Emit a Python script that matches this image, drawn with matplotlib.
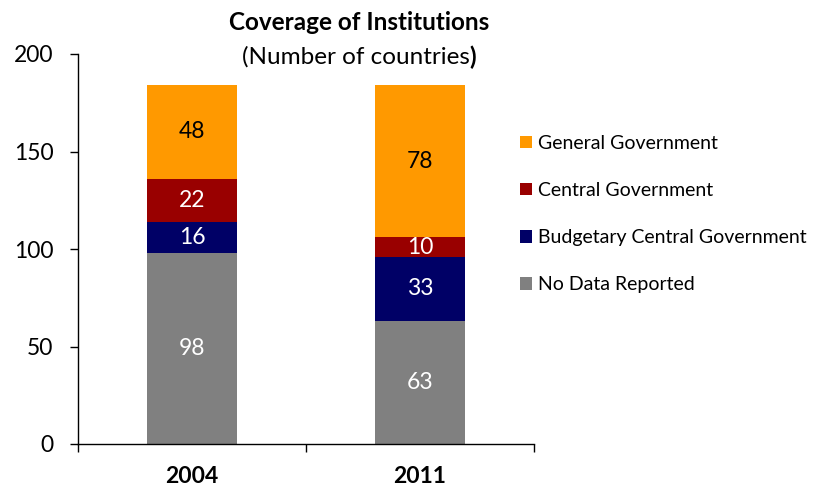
import matplotlib
matplotlib.use("Agg")
import matplotlib.pyplot as plt
from matplotlib.patches import Patch

plt.rcParams['font.family'] = ['Lato', 'DejaVu Sans']

categories = ["2004", "2011"]
series_names = ["No Data Reported", "Budgetary Central Government", "Central Government", "General Government"]
no_data = [98, 63]
budgetary = [16, 33]
central = [22, 10]
general = [48, 78]
colors = ["#808080", "#000066", "#990000", "#FF9900"]
label_colors = ["white", "white", "white", "black"]

fig = plt.figure(figsize=(8.14, 4.88), dpi=100)
ax = fig.add_axes([78/814, 44/488, 456/814, 390/488])

x = list(range(len(categories)))
bottoms = [0]*len(categories)
handles = []
for vals, col, lc, name in zip([no_data, budgetary, central, general], colors, label_colors, series_names):
    ax.bar(x, vals, width=0.395, bottom=bottoms, color=col, edgecolor='none')
    for xi, v, b in zip(x, vals, bottoms):
        ax.text(xi, b + v/2, str(v), ha='center', va='center', color=lc, fontsize=16.5)
    bottoms = [b + v for b, v in zip(bottoms, vals)]
    handles.append(Patch(facecolor=col, label=name))

ax.set_xlim(-0.5, 1.5)
ax.set_ylim(0, 200)
ax.set_yticks([0, 50, 100, 150, 200])
ax.tick_params(axis='y', labelsize=16.5, length=5.8, width=1, direction='out', pad=12)
ax.set_xticks(x)
ax.set_xticklabels(categories, fontsize=16.5, fontweight='bold')
ax.tick_params(axis='x', which='major', length=0, pad=16)
ax.set_xticks([-0.5, 0.5, 1.5], minor=True)
ax.tick_params(axis='x', which='minor', length=6, width=1, direction='out')
for s in ['top', 'right']:
    ax.spines[s].set_visible(False)
for s in ['left', 'bottom']:
    ax.spines[s].set_linewidth(1)

leg = fig.legend(handles=handles[::-1], loc='upper left', bbox_to_anchor=(520/814, 1-135/488),
                 frameon=False, fontsize=14, handlelength=0.6, handleheight=0.6,
                 handletextpad=0.35, labelspacing=1.55, borderpad=0, borderaxespad=0)

fig.text(359/814, 1-22/488, "Coverage of Institutions", ha='center', va='center',
         fontsize=17.5, fontweight='bold')
# subtitle with bold closing parenthesis
fig.canvas.draw()
r = fig.canvas.get_renderer()
t1 = fig.text(0, 1-57/488, "(Number of countries", ha='left', va='center', fontsize=17.5)
t2 = fig.text(0, 1-57/488, ")", ha='left', va='center', fontsize=17.5, fontweight='bold')
w1 = t1.get_window_extent(r).width
w2 = t2.get_window_extent(r).width
start = 359 - (w1 + w2)/2
t1.set_x(start/814)
t2.set_x((start + w1)/814)

fig.savefig("out.png", dpi=100)
